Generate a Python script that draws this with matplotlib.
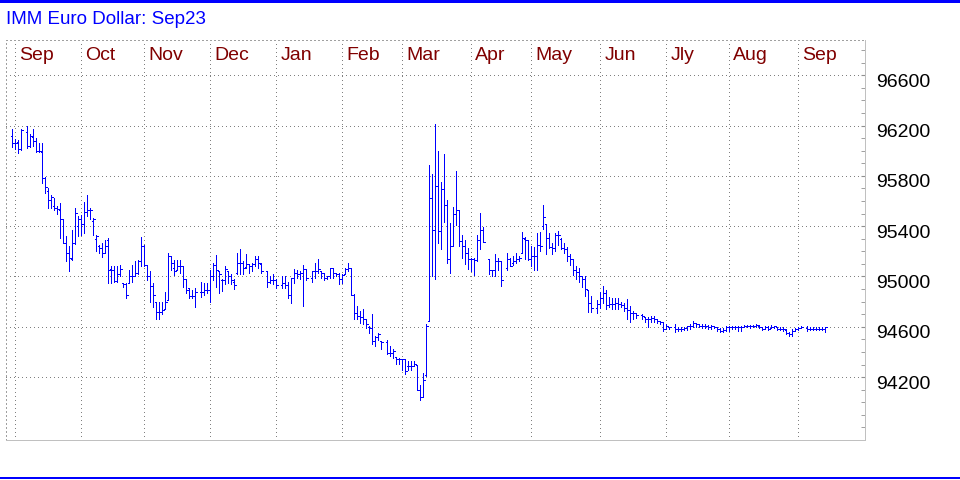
import matplotlib
matplotlib.use('Agg')
import matplotlib.pyplot as plt
import matplotlib.transforms as mtransforms
from matplotlib.ticker import MultipleLocator
import numpy as np
import pandas as pd

plt.rcParams['font.family'] = ['Liberation Sans', 'DejaVu Sans']

titulo = 'IMM Euro Dollar: Sep23'
inicio = '2022-08-30'
fim = '2023-09-13'
meses = ['Sep', 'Oct', 'Nov', 'Dec', 'Jan', 'Feb', 'Mar', 'Apr', 'May', 'Jun', 'Jly', 'Aug', 'Sep']
niveis = [94200, 94600, 95000, 95400, 95800, 96200, 96600]

# one entry per business day, None = no trading that day
abre = [
    96120, 96065, 96070, 96010, None, 96150, 96035, 96110, 96075, 95995,
    95990, 95785, 95680, 95605, 95560, 95545, 95530, 95460, 95270, 95185,
    95140, 95265, 95400, 95455, 95420, 95510, 95525, 95440, 95300, 95245,
    95225, 95190, 95290, 95060, 95055, 94965, 95020, 94945, 94940, 94950,
    95000, 95005, 95025, 95120, 95240, 95090, 95000, 94925, 94800, 94715,
    94715, 94745, 94810, 95160, 95070, 95050, 95080, 95080, 94980, 94905,
    94845, 94845, None, 94880, 94880, 94890, 94890, 95005, 95090, 95040,
    94975, 94970, 95040, 95000, 94960, 95030, 95110, 95110, 95075, 95100,
    95085, 95100, 95140, 95100, None, 95040, 94960, 94970, 94970, None,
    94930, 94945, 94930, 94850, 94985, 95030, 95020, 95030, 95060, None,
    94985, 95040, 95045, 95045, 95030, 94990, 95000, 95065, 95025, 95020,
    94980, 95020, 95060, 95065, 94850, 94710, 94685, 94680, 94660, 94600,
    94590, 94485, 94520, 94485, None, 94480, 94390, 94390, 94360, 94340,
    94340, 94340, 94290, 94290, 94290, 94300, 94095, 94040, 94215, 94650,
    95625, 95370, 95720, 95360, 95695, 95570, 95140, 95245, 95500, 95530,
    95280, 95240, 95185, 95140, 95135, 95130, 95290, 95370, None, 95135,
    95050, 95050, 95120, 95120, None, 95070, 95135, 95110, 95120, 95135,
    95190, 95300, 95290, 95140, 95160, 95165, 95250, 95400, 95420, 95305,
    95235, 95225, 95330, 95300, 95225, 95215, 95160, 95135, 95050, 95035,
    95000, 94980, 94890, 94790, None, 94750, 94785, 94830, 94870, 94775,
    94785, 94785, 94790, 94785, 94775, 94750, 94735, 94710, 94710, None,
    94690, 94675, 94665, 94660, 94670, 94660, 94645, 94635, 94585, 94595,
    None, 94600, 94585, 94580, 94580, 94590, 94605, 94610, 94630, 94620,
    94610, 94605, 94605, 94595, 94605, 94600, 94580, 94570, 94575, 94595,
    94595, 94595, 94595, 94595, 94600, 94605, 94605, 94605, 94605, 94610,
    94595, 94585, 94595, 94590, 94600, 94600, 94585, 94585, 94575, 94550,
    94540, 94570, 94580, 94590, None, 94590, 94580, 94585, 94585, 94585,
    94585, 94585,
]
maxima = [
    96170, 96095, 96085, 96170, None, 96200, 96130, 96170, 96100, 96060,
    96060, 95790, 95705, 95650, 95625, 95560, 95585, 95460, 95325, 95245,
    95370, 95545, 95480, 95490, 95595, 95650, 95545, 95465, 95330, 95250,
    95265, 95290, 95305, 95080, 95080, 95080, 95090, 94950, 94945, 95050,
    95090, 95120, 95130, 95310, 95250, 95090, 95045, 94945, 94800, 94800,
    94800, 94880, 95190, 95160, 95130, 95130, 95130, 95080, 94980, 94905,
    94890, 94905, None, 94960, 94945, 94950, 95050, 95105, 95170, 95040,
    94980, 95080, 95045, 95020, 94980, 95190, 95220, 95125, 95180, 95100,
    95110, 95160, 95165, 95110, None, 95045, 95005, 95020, 94980, None,
    95005, 95005, 94960, 94990, 95060, 95055, 95045, 95090, 95060, None,
    95045, 95110, 95135, 95045, 95030, 95005, 95070, 95070, 95030, 95030,
    95020, 95070, 95105, 95065, 94860, 94765, 94725, 94740, 94665, 94610,
    94700, 94525, 94550, 94485, None, 94495, 94445, 94420, 94360, 94350,
    94340, 94340, 94325, 94325, 94325, 94300, 94140, 94230, 94620, 95890,
    95815, 96210, 95995, 95755, 95975, 95605, 95425, 95555, 95835, 95530,
    95330, 95290, 95230, 95150, 95150, 95330, 95505, 95395, None, 95135,
    95055, 95180, 95150, 95120, None, 95190, 95150, 95165, 95185, 95165,
    95355, 95315, 95290, 95245, 95235, 95345, 95355, 95565, 95420, 95345,
    95270, 95345, 95365, 95305, 95265, 95235, 95175, 95135, 95085, 95070,
    95000, 95000, 94890, 94845, None, 94815, 94880, 94925, 94890, 94835,
    94825, 94825, 94825, 94795, 94790, 94820, 94765, 94725, 94710, None,
    94700, 94675, 94675, 94685, 94685, 94660, 94645, 94635, 94620, 94600,
    None, 94620, 94595, 94595, 94600, 94610, 94620, 94645, 94630, 94625,
    94625, 94620, 94615, 94615, 94610, 94600, 94590, 94590, 94605, 94605,
    94605, 94605, 94605, 94605, 94615, 94615, 94615, 94615, 94620, 94615,
    94600, 94605, 94605, 94615, 94610, 94600, 94600, 94595, 94580, 94555,
    94580, 94590, 94600, 94605, None, 94605, 94600, 94600, 94600, 94595,
    94595, 94600,
]
minima = [
    96030, 96015, 95980, 96005, None, 96020, 96030, 96040, 95990, 95990,
    95745, 95660, 95545, 95545, 95525, 95500, 95305, 95265, 95120, 95045,
    95130, 95260, 95320, 95330, 95345, 95480, 95460, 95330, 95200, 95185,
    95155, 95185, 94950, 94950, 94960, 94960, 95000, 94915, 94825, 94945,
    94960, 95000, 95020, 95080, 95080, 94970, 94800, 94760, 94665, 94660,
    94705, 94745, 94810, 95050, 95010, 95050, 95030, 94920, 94865, 94825,
    94825, 94760, None, 94840, 94855, 94865, 94800, 94970, 94920, 94865,
    94885, 94940, 94950, 94940, 94900, 95020, 95020, 95020, 95070, 95030,
    95045, 95085, 95070, 95030, None, 94920, 94950, 94940, 94910, None,
    94910, 94910, 94830, 94790, 94950, 94990, 94980, 94765, 94970, None,
    94960, 94990, 95030, 94990, 94975, 94980, 94985, 94990, 95000, 94940,
    94950, 95020, 95040, 94850, 94665, 94660, 94630, 94625, 94590, 94550,
    94465, 94445, 94495, 94425, None, 94380, 94365, 94350, 94305, 94305,
    94260, 94225, 94260, 94260, 94285, 94095, 94020, 94040, 94210, 94650,
    95005, 94980, 95265, 95220, 95430, 95110, 95025, 95245, 95410, 95240,
    95150, 95100, 95060, 95045, 95010, 95120, 95215, 95275, None, 95020,
    95000, 95000, 95055, 94925, None, 95055, 95080, 95095, 95105, 95120,
    95185, 95135, 95130, 95080, 95050, 95055, 95200, 95380, 95175, 95225,
    95175, 95200, 95250, 95220, 95185, 95120, 95095, 95010, 94980, 94955,
    94915, 94845, 94720, 94715, None, 94710, 94750, 94790, 94745, 94755,
    94740, 94745, 94740, 94755, 94725, 94665, 94635, 94665, 94670, None,
    94665, 94635, 94600, 94635, 94635, 94630, 94620, 94570, 94580, 94585,
    None, 94555, 94565, 94565, 94575, 94575, 94585, 94600, 94595, 94595,
    94590, 94590, 94585, 94585, 94590, 94570, 94555, 94560, 94570, 94570,
    94580, 94580, 94570, 94565, 94595, 94595, 94590, 94595, 94595, 94590,
    94575, 94580, 94575, 94590, 94590, 94575, 94575, 94565, 94540, 94530,
    94530, 94565, 94575, 94590, None, 94570, 94575, 94575, 94575, 94575,
    94575, 94560,
]
fecha = [
    96065, 96065, 96010, 96165, None, 96035, 96115, 96075, 95995, 95995,
    95785, 95715, 95605, 95630, 95545, 95535, 95460, 95270, 95185, 95145,
    95265, 95505, 95455, 95420, 95510, 95525, 95530, 95460, 95325, 95225,
    95190, 95240, 95055, 95055, 94965, 95020, 95060, 94940, 94850, 95005,
    95005, 95025, 95120, 95240, 95095, 95000, 94925, 94855, 94715, 94715,
    94730, 94800, 95160, 95105, 95040, 95080, 95080, 94980, 94895, 94845,
    94845, 94875, None, 94880, 94890, 94890, 95005, 95090, 95050, 95020,
    94970, 95060, 95000, 94975, 94930, 95110, 95110, 95065, 95100, 95085,
    95100, 95140, 95105, 95045, None, 94960, 94970, 94970, 94930, None,
    94945, 94930, 94850, 94985, 95030, 95020, 95030, 95060, 94985, None,
    95040, 95045, 95060, 95030, 94990, 95000, 95065, 95025, 95020, 94980,
    95010, 95060, 95065, 94850, 94710, 94685, 94680, 94660, 94620, 94590,
    94485, 94520, 94540, 94480, None, 94390, 94390, 94405, 94340, 94340,
    94340, 94245, 94290, 94290, 94305, 94095, 94040, 94175, 94610, 95625,
    95370, 95720, 95360, 95695, 95570, 95140, 95245, 95500, 95530, 95280,
    95240, 95185, 95140, 95135, 95130, 95290, 95370, 95275, None, 95050,
    95050, 95120, 95120, 94975, None, 95135, 95085, 95120, 95135, 95150,
    95305, 95290, 95140, 95160, 95165, 95250, 95240, 95475, 95305, 95235,
    95225, 95330, 95330, 95225, 95215, 95160, 95135, 95050, 95035, 95000,
    94980, 94900, 94790, 94750, None, 94785, 94830, 94870, 94775, 94785,
    94785, 94790, 94785, 94775, 94750, 94735, 94710, 94710, 94690, None,
    94685, 94665, 94660, 94670, 94660, 94645, 94635, 94585, 94605, 94595,
    None, 94585, 94580, 94580, 94590, 94605, 94610, 94630, 94620, 94610,
    94605, 94605, 94595, 94605, 94600, 94580, 94570, 94575, 94595, 94595,
    94595, 94595, 94595, 94600, 94605, 94605, 94605, 94605, 94615, 94595,
    94585, 94595, 94585, 94600, 94605, 94585, 94585, 94580, 94550, 94540,
    94570, 94580, 94590, 94600, None, 94580, 94585, 94585, 94585, 94585,
    94585, 94595,
]

azul = '#0000ff'

dias = pd.bdate_range(inicio, fim)
x = np.arange(len(dias))
o = np.array(abre, dtype=float)
h = np.array(maxima, dtype=float)
l = np.array(minima, dtype=float)
c = np.array(fecha, dtype=float)
ok = ~np.isnan(h)

fig = plt.figure(figsize=(9.6, 4.8), dpi=100)
ax = fig.add_axes([5.5 / 960, 40 / 480, 859.5 / 960, 400 / 480])

# barras OHLC, 1 px
lw = 0.72
ax.vlines(x[ok], l[ok], h[ok], color=azul, lw=lw, antialiased=False)
ax.hlines(o[ok], x[ok] - 0.6, x[ok], color=azul, lw=lw, antialiased=False)
ax.hlines(c[ok], x[ok], x[ok] + 0.6, color=azul, lw=lw, antialiased=False)

ax.set_xlim(-2.27, 284.2)
ax.set_ylim(93700, 96880)

# month lines sit on the last trading day of the previous month
m = dias.month.values
grade = np.flatnonzero(m[1:] != m[:-1])
ax.set_xticks(grade)
ax.set_yticks(niveis)
ax.yaxis.set_minor_locator(MultipleLocator(100))
ax.grid(True, linestyle=(0, (1, 3)), color='#808080', lw=lw, antialiased=False)
ax.tick_params(axis='x', bottom=False, labelbottom=False)
ax.tick_params(axis='y', which='both', left=False, right=True, direction='in',
               length=3, color='#909090', labelleft=False, labelright=False)

for lado in ['top', 'left']:
    ax.spines[lado].set_linestyle((0, (1, 3)))
    ax.spines[lado].set_color('#a0a0a0')
    ax.spines[lado].set_linewidth(lw)
for lado in ['right', 'bottom']:
    ax.spines[lado].set_color('#c0c0c0')
    ax.spines[lado].set_linewidth(lw)

trans_mes = mtransforms.blended_transform_factory(ax.transData, ax.transAxes)
for g, nome in zip(grade, meses):
    ax.text(g + 1.3, 0.96, nome, transform=trans_mes, color='#800000',
            fontsize=14, ha='left', va='center')

trans_y = mtransforms.offset_copy(ax.get_yaxis_transform(), fig=fig, x=0, y=-7, units='dots')
for v in niveis:
    ax.text(1.0128, v, str(v), transform=trans_y, color='black',
            fontsize=14, ha='left', va='center')

fig.text(6 / 960, 1 - 20 / 480, titulo, color=azul, fontsize=13.5, ha='left', va='center')

fig.add_artist(plt.Rectangle((0, 1 - 3 / 480), 1, 3 / 480, transform=fig.transFigure,
                             color=azul, lw=0))
fig.add_artist(plt.Rectangle((0, 1 / 480), 1, 2 / 480, transform=fig.transFigure,
                             color=azul, lw=0))

fig.savefig('out.png', dpi=100)
